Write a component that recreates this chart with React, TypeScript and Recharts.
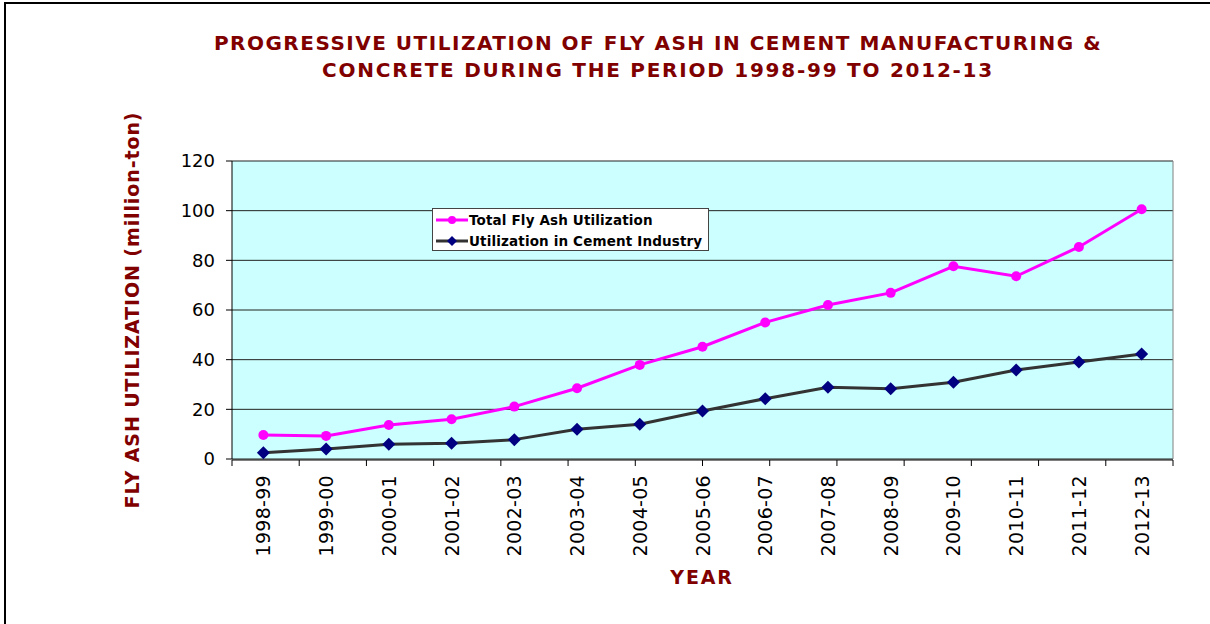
import React from "react";
import {
  LineChart,
  Line,
  XAxis,
  YAxis,
  CartesianGrid,
  Legend,
} from "recharts";

const years = [
  "1998-99", "1999-00", "2000-01", "2001-02", "2002-03", "2003-04", "2004-05",
  "2005-06", "2006-07", "2007-08", "2008-09", "2009-10", "2010-11", "2011-12", "2012-13",
];
const totalUtilization = [9.7, 9.3, 13.7, 16.0, 21.1, 28.5, 37.9, 45.2, 55.0, 62.0, 66.9, 77.6, 73.6, 85.4, 100.6];
const cementUtilization = [2.5, 4.0, 5.9, 6.3, 7.8, 12.0, 14.0, 19.3, 24.3, 28.9, 28.3, 30.9, 35.8, 39.1, 42.3];
const yTicks = [0, 20, 40, 60, 80, 100, 120];
const boundaryTicks = [0, 1, 2, 3, 4, 5, 6, 7, 8, 9, 10, 11, 12, 13, 14, 15];

const seriesNames = ["Total Fly Ash Utilization", "Utilization in Cement Industry"];
const titleLines = [
  "PROGRESSIVE UTILIZATION OF FLY ASH IN CEMENT MANUFACTURING &",
  "CONCRETE DURING THE PERIOD 1998-99 TO 2012-13",
];

const data = years.map((y, i) => ({
  year: y,
  total: totalUtilization[i],
  cement: cementUtilization[i],
}));

const FONT = "'DejaVu Sans', Verdana, sans-serif";
const DARKRED = "#800000";

const CatTick = (props: any) => {
  const { x, y, payload } = props;
  return (
    <text
      x={x}
      y={y}
      transform={`rotate(-90 ${x} ${y})`}
      textAnchor="end"
      dy={7}
      fontSize={19}
      letterSpacing={0.3}
      fontFamily={FONT}
      fill="#000"
    >
      {payload.value}
    </text>
  );
};

const Diamond = (props: any) => {
  const { cx, cy } = props;
  if (cx == null || cy == null) return <g />;
  const s = 6.5;
  return (
    <polygon
      points={`${cx},${cy - s} ${cx + s},${cy} ${cx},${cy + s} ${cx - s},${cy}`}
      fill="#000080"
      stroke="none"
    />
  );
};

const LegendContent = () => (
  <div
    style={{
      width: 275,
      height: 41,
      border: "1px solid #444",
      background: "#fff",
      fontFamily: FONT,
      fontWeight: "bold",
      fontSize: 13.5,
      letterSpacing: 0.15,
      color: "#000",
      boxSizing: "content-box",
    }}
  >
    {seriesNames.map((n, i) => (
      <div key={n} style={{ display: "flex", alignItems: "center", height: 21 }}>
        <svg width={36} height={20} style={{ flex: "none" }}>
          <line x1={3} y1={10} x2={35} y2={10} stroke={i === 0 ? "#FF00FF" : "#333"} strokeWidth={3} />
          {i === 0 ? (
            <circle cx={19} cy={10} r={4} fill="#FF00FF" />
          ) : (
            <polygon points="19,5 24,10 19,15 14,10" fill="#000080" />
          )}
        </svg>
        <span style={{ whiteSpace: "nowrap" }}>{n}</span>
      </div>
    ))}
  </div>
);

export default function App() {
  return (
    <div
      style={{
        position: "absolute",
        left: 0,
        top: 0,
        width: 1210,
        height: 624,
        background: "#fff",
        overflow: "hidden",
      }}
    >
      <div
        style={{
          position: "absolute",
          left: 4,
          top: 2,
          width: 1210,
          height: 630,
          borderLeft: "2px solid #000",
          borderTop: "2px solid #000",
        }}
      />
      <div
        style={{
          position: "absolute",
          left: 158,
          top: 30,
          width: 1000,
          textAlign: "center",
          fontFamily: FONT,
          fontWeight: "bold",
          fontSize: 20,
          lineHeight: "27px",
          color: DARKRED,
        }}
      >
        <div style={{ letterSpacing: 1.5 }}>{titleLines[0]}</div>
        <div style={{ letterSpacing: 1.75 }}>{titleLines[1]}</div>
      </div>
      <LineChart
        width={1210}
        height={624}
        data={data}
        margin={{ top: 161, right: 36, bottom: 163, left: 0 }}
      >
        <CartesianGrid fill="#CCFFFF" vertical={false} stroke="#222" strokeWidth={1} />
        <XAxis
          xAxisId="b"
          type="number"
          domain={[0, 15]}
          ticks={boundaryTicks}
          allowDataOverflow
          height={1}
          axisLine={{ stroke: "#000", strokeWidth: 1 }}
          tickSize={6}
          tickLine={{ stroke: "#000" }}
          tick={() => <g />}
        />
        <XAxis
          dataKey="year"
          scale="band"
          height={1}
          tickLine={false}
          tickSize={6}
          tickMargin={10}
          interval={0}
          axisLine={false}
          tick={CatTick}
        />
        <YAxis
          width={232}
          domain={[0, 120]}
          ticks={yTicks}
          tickSize={6}
          tickMargin={11}
          axisLine={{ stroke: "#000" }}
          tickLine={{ stroke: "#000" }}
          tick={{ fontSize: 18, fontFamily: FONT, fill: "#000" }}
        />
        <YAxis
          yAxisId="r"
          orientation="right"
          width={1}
          domain={[0, 120]}
          tick={false}
          tickLine={false}
          axisLine={{ stroke: "#808080" }}
        />
        <Legend
          layout="horizontal"
          verticalAlign="middle"
          align="center"
          wrapperStyle={{ position: "absolute", left: 432, top: 208, width: 277, height: 43 }}
          content={LegendContent}
        />
        <Line
          dataKey="total"
          name={seriesNames[0]}
          stroke="#FF00FF"
          strokeWidth={3}
          dot={{ r: 5, fill: "#FF00FF", stroke: "none" }}
          activeDot={false}
          isAnimationActive={false}
        />
        <Line
          dataKey="cement"
          name={seriesNames[1]}
          stroke="#333333"
          strokeWidth={3}
          dot={<Diamond />}
          activeDot={false}
          isAnimationActive={false}
        />
      </LineChart>
      <svg
        width={1210}
        height={624}
        style={{ position: "absolute", left: 0, top: 0, pointerEvents: "none" }}
      >
        <text
          x={139}
          y={310}
          transform="rotate(-90 139 310)"
          textAnchor="middle"
          fontFamily={FONT}
          fontWeight="bold"
          fontSize={19}
          letterSpacing={0.9}
          fill={DARKRED}
        >
          FLY ASH UTILIZATION (million-ton)
        </text>
        <text
          x={702}
          y={584}
          textAnchor="middle"
          fontFamily={FONT}
          fontWeight="bold"
          fontSize={19}
          letterSpacing={1.8}
          fill={DARKRED}
        >
          YEAR
        </text>
      </svg>
    </div>
  );
}
